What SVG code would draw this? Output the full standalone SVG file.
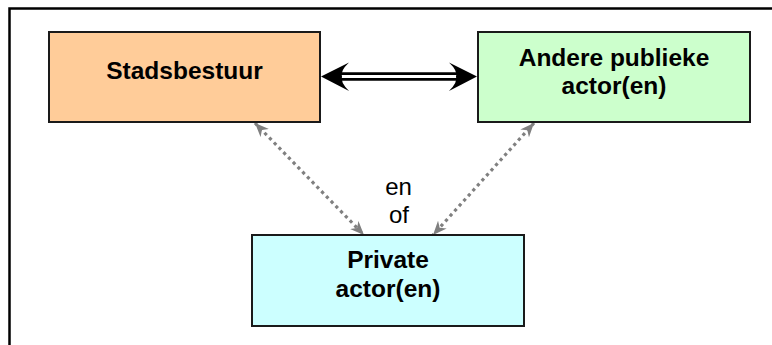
<svg xmlns="http://www.w3.org/2000/svg" width="772" height="345" viewBox="0 0 772 345">
<style>
.box{stroke:#1a1a1a;stroke-width:2}
.lbl{font-family:"Liberation Sans",Arial,sans-serif;font-weight:bold;font-size:24.5px;text-anchor:middle;fill:#000}
.txt{font-family:"Liberation Sans",Arial,sans-serif;font-size:24px;text-anchor:middle;fill:#000}
.dot{stroke:#808080;stroke-width:3.2;stroke-dasharray:3.2 3.6;fill:none}
</style>
<defs>
<marker id="gh" viewBox="0 0 12 10" refX="12" refY="5" markerWidth="14" markerHeight="12" markerUnits="userSpaceOnUse" orient="auto-start-reverse">
<path d="M0,0 L12,5 L0,10 L3.5,5 Z" fill="#808080"/>
</marker>
</defs>
<rect x="9.5" y="8.5" width="800" height="400" fill="#fff" stroke="#000" stroke-width="2.5"/>
<g id="connectors">
<g id="double-arrow">
<line x1="336" y1="76.5" x2="462" y2="76.5" stroke="#000" stroke-width="8.5"/>
<line x1="340" y1="76.5" x2="458" y2="76.5" stroke="#fff" stroke-width="3"/>
<path d="M321,76.5 L349,62.5 Q340,71 342,76.5 Q340,82 349,91 Z" fill="#000"/>
<path d="M477,76.5 L449,62.5 Q458,71 456,76.5 Q458,82 449,91 Z" fill="#000"/>
</g>
<line class="dot" x1="255" y1="123" x2="364" y2="235" marker-start="url(#gh)" marker-end="url(#gh)"/>
<line class="dot" x1="534" y1="123" x2="433" y2="235" marker-start="url(#gh)" marker-end="url(#gh)"/>
</g>
<g id="stadsbestuur">
<rect class="box" x="49" y="32" width="271" height="90" fill="#FFCC99"/>
<text class="lbl" x="184.5" y="78.5">Stadsbestuur</text>
</g>
<g id="andere-publieke">
<rect class="box" x="478" y="32" width="272" height="90" fill="#CCFFCC"/>
<text class="lbl" x="614" y="66">Andere publieke</text>
<text class="lbl" x="614" y="93.5">actor(en)</text>
</g>
<g id="private">
<rect class="box" x="252" y="235" width="272" height="91" fill="#CCFFFF"/>
<text class="lbl" x="388" y="268">Private</text>
<text class="lbl" x="388" y="296.5">actor(en)</text>
</g>
<g id="en-of">
<text class="txt" x="398.5" y="195">en</text>
<text class="txt" x="399" y="223">of</text>
</g>
</svg>
